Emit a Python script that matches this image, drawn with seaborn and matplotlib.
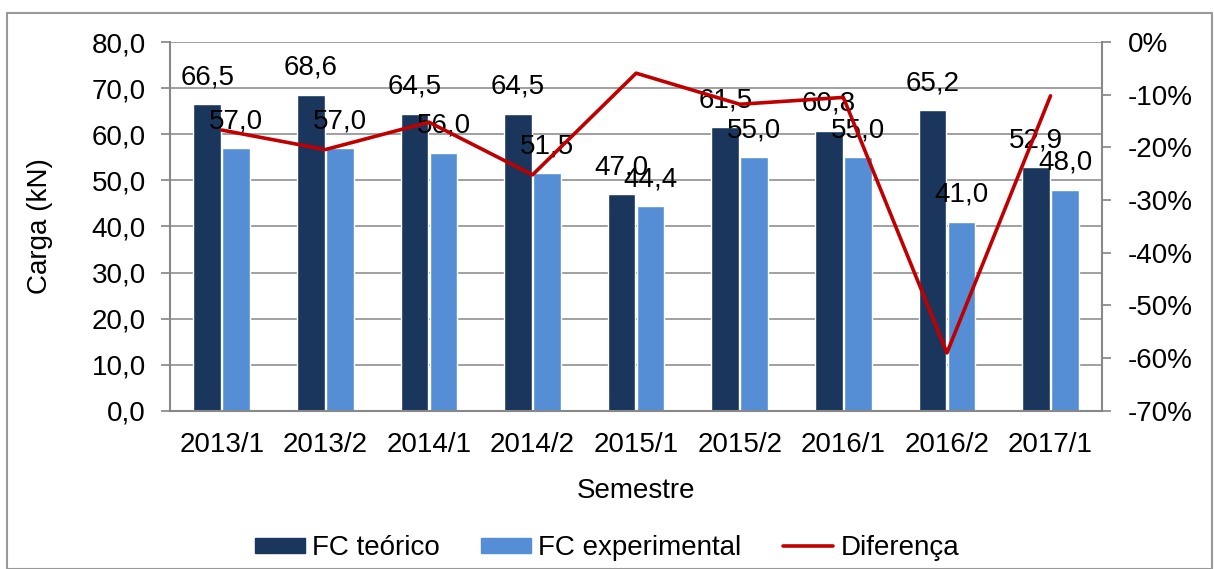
import pandas as pd
import matplotlib.pyplot as plt
import seaborn as sns
from matplotlib.ticker import FuncFormatter
from matplotlib.patches import Rectangle

sns.set_theme(style="white")
plt.rcParams['font.family'] = ['Liberation Sans', 'DejaVu Sans']
plt.rcParams['text.color'] = 'black'
plt.rcParams['xtick.color'] = 'black'
plt.rcParams['ytick.color'] = 'black'
plt.rcParams['axes.labelcolor'] = 'black'

semestres = ["2013/1", "2013/2", "2014/1", "2014/2", "2015/1", "2015/2", "2016/1", "2016/2", "2017/1"]
fc_teorico = [66.5, 68.6, 64.5, 64.5, 47.0, 61.5, 60.8, 65.2, 52.9]
fc_experimental = [57.0, 57.0, 56.0, 51.5, 44.4, 55.0, 55.0, 41.0, 48.0]
diferenca = [-16.7, -20.4, -15.2, -25.2, -5.9, -11.8, -10.5, -59.0, -10.2]

df = pd.DataFrame({"Semestre": semestres * 2,
                   "Carga": fc_teorico + fc_experimental,
                   "Serie": ["FC teórico"] * 9 + ["FC experimental"] * 9})

my_palette = ["#1A365D", "#558ED5"]
fs = 20
fig = plt.figure(figsize=(12.14, 5.69), dpi=100)
ax = fig.add_axes([0.14, 0.278, 0.768, 0.648])

f = sns.barplot(data=df, x="Semestre", y="Carga", hue="Serie", palette=my_palette, saturation=1,
                width=0.56, gap=0.05, ax=ax, legend=False, zorder=2)
f.set_ylim(0, 80)
f.set_yticks(range(0, 81, 10))
f.yaxis.set_major_formatter(FuncFormatter(lambda v, p: f"{v:.1f}".replace(".", ",")))
f.yaxis.grid(True, color="#A0A0A0", linewidth=1.4, zorder=0)
f.set_axisbelow(True)
f.tick_params(axis="y", labelsize=fs, length=6.5, color="#888888", left=True, pad=11)
f.tick_params(axis="x", labelsize=fs, bottom=False, pad=9.5)
f.set_ylabel("Carga (kN)", fontsize=fs, labelpad=28)
f.set_xlabel("Semestre", fontsize=fs, labelpad=14)
for s in ["top", "right"]:
    f.spines[s].set_visible(False)
for s in ["left", "bottom"]:
    f.spines[s].set_color("#888888")
    f.spines[s].set_linewidth(1.5)

for cont in f.containers:
    f.bar_label(cont, labels=[f"{v:.1f}".replace(".", ",") for v in cont.datavalues],
                fontsize=fs, padding=10)

ax2 = f.twinx()
sns.lineplot(x=list(range(9)), y=diferenca, color="#C00000", linewidth=2.6, ax=ax2, zorder=3)
ax2.set_ylim(-70, 0)
ax2.set_yticks(range(-70, 1, 10))
ax2.yaxis.set_major_formatter(FuncFormatter(lambda v, p: f"{v:.0f}%"))
ax2.tick_params(labelsize=fs, length=6.5, color="#888888", right=True, pad=12)
for s in ["top", "left", "bottom"]:
    ax2.spines[s].set_visible(False)
ax2.spines["right"].set_color("#888888")
ax2.spines["right"].set_linewidth(1.5)
f.set_xlim(-0.5, 8.5)

handles = [Rectangle((0, 0), 1, 1, color=my_palette[0]),
           Rectangle((0, 0), 1, 1, color=my_palette[1]),
           plt.Line2D([], [], color="#C00000", linewidth=2.6)]
fig.legend(handles, ["FC teórico", "FC experimental", "Diferença"], loc="lower center",
           bbox_to_anchor=(0.5, -0.03), ncol=3, fontsize=fs, frameon=False,
           handlelength=1.8, handleheight=0.45, columnspacing=1.5, handletextpad=0.25)

fig.patches.append(Rectangle((0.006, 0.0), 0.992, 0.978, transform=fig.transFigure,
                             fill=False, edgecolor="#999999", linewidth=1.5))
fig.savefig("out.png", dpi=100)
